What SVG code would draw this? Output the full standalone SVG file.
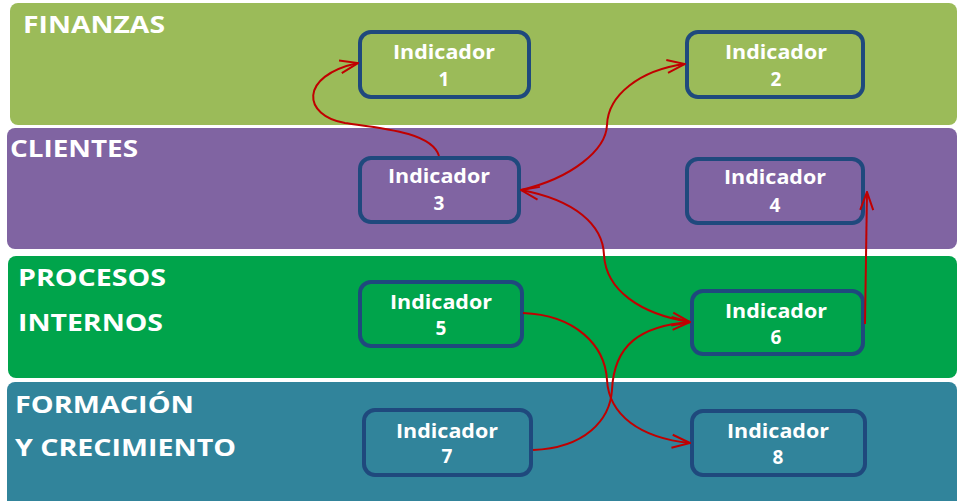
<svg xmlns="http://www.w3.org/2000/svg" width="958" height="501" viewBox="0 0 958 501">
<defs>
<style>
.band-label{font-family:"Open Sans","Liberation Sans",sans-serif;font-weight:bold;font-size:23px;fill:#ffffff}
.box{fill:none;stroke:#1F497D;stroke-width:4}
.t{font-family:"Open Sans","Liberation Sans",sans-serif;font-weight:bold;font-size:19px;fill:#ffffff;text-anchor:middle}
.c{fill:none;stroke:#C00000;stroke-width:2}
</style>
<marker id="ah" viewBox="0 0 20 16" refX="19" refY="8" markerWidth="20" markerHeight="16" markerUnits="userSpaceOnUse" orient="auto-start-reverse">
<path d="M1,1.5 L19,8 L1,14.5" fill="none" stroke="#C00000" stroke-width="2"/>
</marker>
</defs>
<rect width="958" height="501" fill="#ffffff"/>
<g id="band-finanzas">
<rect x="10" y="3" width="947" height="122" rx="8" fill="#9BBB59"/>
<text class="band-label" x="23" y="33" textLength="142" lengthAdjust="spacingAndGlyphs">FINANZAS</text>
</g>
<g id="band-clientes">
<rect x="7" y="128" width="950" height="121" rx="8" fill="#8064A2"/>
<text class="band-label" x="10" y="157" textLength="128" lengthAdjust="spacingAndGlyphs">CLIENTES</text>
</g>
<g id="band-procesos">
<rect x="8" y="256" width="949" height="122" rx="8" fill="#00A44B"/>
<text class="band-label" x="18" y="286" textLength="148" lengthAdjust="spacingAndGlyphs">PROCESOS</text>
<text class="band-label" x="18" y="331" textLength="145" lengthAdjust="spacingAndGlyphs">INTERNOS</text>
</g>
<g id="band-formacion">
<rect x="7" y="382" width="950" height="130" rx="8" fill="#31849B"/>
<text class="band-label" x="15" y="413" textLength="179" lengthAdjust="spacingAndGlyphs">FORMACIÓN</text>
<text class="band-label" x="15" y="456" textLength="221" lengthAdjust="spacingAndGlyphs">Y CRECIMIENTO</text>
</g>
<g id="ind1">
<rect class="box" x="360" y="32" width="169" height="65" rx="11"/>
<text class="t" x="444" y="59" textLength="102" lengthAdjust="spacingAndGlyphs">Indicador</text>
<text class="t" x="444" y="86">1</text>
</g>
<g id="ind2">
<rect class="box" x="687" y="32" width="176" height="65" rx="11"/>
<text class="t" x="776" y="59" textLength="102" lengthAdjust="spacingAndGlyphs">Indicador</text>
<text class="t" x="776" y="86">2</text>
</g>
<g id="ind3">
<rect class="box" x="360" y="158" width="159" height="64" rx="11"/>
<text class="t" x="439" y="183" textLength="102" lengthAdjust="spacingAndGlyphs">Indicador</text>
<text class="t" x="439" y="210">3</text>
</g>
<g id="ind4">
<rect class="box" x="687" y="159" width="176" height="64" rx="11"/>
<text class="t" x="775" y="184" textLength="102" lengthAdjust="spacingAndGlyphs">Indicador</text>
<text class="t" x="775" y="212">4</text>
</g>
<g id="ind5">
<rect class="box" x="360" y="282" width="162" height="64" rx="11"/>
<text class="t" x="441" y="309" textLength="102" lengthAdjust="spacingAndGlyphs">Indicador</text>
<text class="t" x="441" y="335">5</text>
</g>
<g id="ind6">
<rect class="box" x="692" y="291" width="171" height="63" rx="11"/>
<text class="t" x="776" y="318" textLength="102" lengthAdjust="spacingAndGlyphs">Indicador</text>
<text class="t" x="776" y="344">6</text>
</g>
<g id="ind7">
<rect class="box" x="364" y="410" width="167" height="65" rx="11"/>
<text class="t" x="447" y="438" textLength="102" lengthAdjust="spacingAndGlyphs">Indicador</text>
<text class="t" x="447" y="463">7</text>
</g>
<g id="ind8">
<rect class="box" x="692" y="411" width="173" height="64" rx="11"/>
<text class="t" x="778" y="438" textLength="102" lengthAdjust="spacingAndGlyphs">Indicador</text>
<text class="t" x="778" y="464">8</text>
</g>
<g id="connectors">
<path class="c" d="M439,156 C432,132 380,128 345,123 C303,116 298,76 358,63" marker-end="url(#ah)"/>
<path class="c" d="M521,190 C572,178 606,150 607,125 C608,95 640,70 685,64" marker-end="url(#ah)"/>
<path class="c" d="M521,190 C575,200 603,225 604,255 C606,290 640,314 690,322" marker-start="url(#ah)" marker-end="url(#ah)"/>
<path class="c" d="M533,450 C585,448 610,420 612,390 C614,345 640,326 690,322" marker-end="url(#ah)"/>
<path class="c" d="M523,313 C575,315 605,345 607,380 C609,415 640,438 690,443" marker-end="url(#ah)"/>
<path class="c" d="M865,324 L867,192" marker-end="url(#ah)"/>
</g>
</svg>
